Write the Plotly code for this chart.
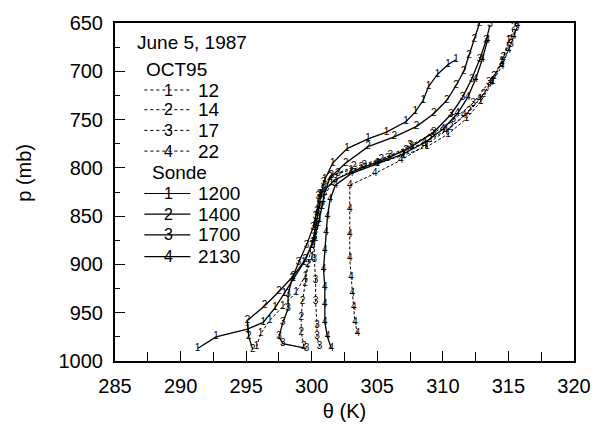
import plotly.graph_objects as go

# ---------------- data ----------------
# OCT95 model profiles (dotted)
oct1_theta = [295.8, 296.1, 296.8, 297.8, 298.8, 299.5, 300.0, 300.3, 300.6, 300.9, 301.5, 303.0, 305.0, 307.0, 308.8, 310.4, 311.8, 312.9, 313.8, 314.5, 315.0]
oct1_p     = [985, 972, 958, 944, 929, 912, 893, 873, 853, 833, 815, 803, 795, 787, 778, 765, 749, 731, 711, 690, 668]

oct2_theta = [299.4, 299.2, 299.2, 299.3, 299.5, 299.7, 300.0, 300.3, 300.6, 300.9, 301.5, 303.2, 305.3, 307.2, 309.0, 310.6, 312.0, 313.1, 313.9, 314.6, 315.1, 315.4]
oct2_p     = [985, 970, 955, 938, 920, 900, 880, 860, 840, 822, 808, 799, 791, 782, 771, 758, 742, 724, 705, 686, 668, 655]

oct3_theta = [300.6, 300.4, 300.4, 300.3, 300.3, 300.2, 300.2, 300.3, 300.5, 300.9, 302.0, 304.0, 306.0, 307.5, 309.2, 310.8, 312.3, 313.5, 314.5, 315.2, 315.6]
oct3_p     = [985, 975, 963, 938, 917, 895, 872, 850, 830, 815, 806, 798, 787, 777, 765, 750, 733, 712, 692, 672, 656]

oct4_theta = [303.5, 303.3, 303.2, 303.1, 303.0, 302.9, 302.9, 302.9, 302.9, 304.8, 306.8, 308.6, 310.2, 311.6, 312.8, 313.7, 314.5, 315.0, 315.4, 315.7]
oct4_p     = [972, 960, 945, 930, 914, 894, 869, 843, 818, 806, 792, 777, 762, 746, 729, 712, 695, 678, 664, 653]

# Sonde profiles (solid)
snd1_theta = [291.3, 292.7, 295.1, 296.3, 297.2, 297.9, 298.6, 299.4, 300.0, 300.3, 300.5, 300.7, 301.0, 301.6, 302.7, 304.3, 305.7, 307.2, 307.9, 308.5, 308.9, 309.6, 310.4, 311.0]
snd1_p     = [987, 975, 967, 960, 945, 930, 915, 898, 880, 862, 845, 828, 812, 795, 780, 770, 763, 752, 742, 730, 716, 703, 693, 688]

snd2_theta = [295.5, 295.2, 295.1, 296.4, 297.5, 298.6, 299.5, 300.1, 300.5, 300.8, 301.0, 301.4, 302.6, 304.3, 306.3, 308.0, 309.3, 310.3, 311.0, 311.6, 312.0, 312.4, 312.8]
snd2_p     = [988, 975, 958, 943, 928, 912, 895, 877, 858, 840, 825, 810, 795, 778, 768, 757, 744, 730, 715, 700, 684, 667, 650]

snd3_theta = [299.6, 297.8, 297.5, 297.8, 298.2, 298.2, 298.5, 299.0, 299.6, 300.1, 300.4, 300.6, 301.8, 303.8, 305.8, 307.6, 309.3, 310.6, 311.5, 312.2, 312.8, 313.3, 313.6]
snd3_p     = [987, 982, 975, 960, 946, 931, 915, 898, 880, 862, 845, 828, 812, 800, 790, 778, 763, 745, 727, 708, 688, 668, 652]

snd4_theta = [301.5, 301.2, 301.0, 301.0, 301.0, 300.9, 301.0, 301.1, 301.2, 301.4, 301.8, 303.0, 305.0, 306.9, 308.6, 310.0, 311.1, 311.9, 312.5, 313.0, 313.4]
snd4_p     = [987, 975, 960, 942, 924, 905, 886, 867, 850, 833, 818, 806, 796, 786, 774, 760, 744, 727, 708, 688, 668]

oct_labels = ["12", "14", "17", "22"]
sonde_labels = ["1200", "1400", "1700", "2130"]
x_ticks = [285, 290, 295, 300, 305, 310, 315, 320]
y_ticks = [650, 700, 750, 800, 850, 900, 950, 1000]

FONT = "Liberation Sans, Arial, sans-serif"
DOT = "3px,2px"

fig = go.Figure()

oct_series = [(oct1_theta, oct1_p), (oct2_theta, oct2_p), (oct3_theta, oct3_p), (oct4_theta, oct4_p)]
snd_series = [(snd1_theta, snd1_p), (snd2_theta, snd2_p), (snd3_theta, snd3_p), (snd4_theta, snd4_p)]

for i, (th, p) in enumerate(oct_series):
    fig.add_trace(go.Scatter(
        x=th, y=p, mode="lines+text", text=[str(i + 1)] * len(th),
        textposition="middle center",
        textfont=dict(size=10, color="#000000", family=FONT),
        line=dict(color="#000000", width=1, dash=DOT),
        name="OCT95 " + oct_labels[i], showlegend=False, hoverinfo="skip"))

for i, (th, p) in enumerate(snd_series):
    fig.add_trace(go.Scatter(
        x=th, y=p, mode="lines+text", text=[str(i + 1)] * len(th),
        textposition="middle center",
        textfont=dict(size=10, color="#000000", family=FONT),
        line=dict(color="#000000", width=1.3),
        name="Sonde " + sonde_labels[i], showlegend=False, hoverinfo="skip"))

# ---------------- manual legend (paper coordinates) ----------------
L, R, T, B = 115, 584, 18, 361
def px(x):
    return (x - L) / (R - L)
def py(y):
    return (B - y) / (B - T)

shapes = []
annotations = []

def txt(s, x, y, size=19, anchor="left"):
    annotations.append(dict(text=s, x=px(x), y=py(y), xref="paper", yref="paper",
                            xanchor=anchor, yanchor="middle", showarrow=False,
                            font=dict(size=size, color="black", family=FONT)))

txt("June 5, 1987", 135, 38)
txt("OCT95", 145, 65)
txt("Sonde", 151, 170)

oct_rows = [86, 106, 127, 148]
snd_rows = [191, 212, 233, 255]
for i, y in enumerate(oct_rows):
    shapes.append(dict(type="line", xref="paper", yref="paper", x0=px(145), x1=px(192),
                       y0=py(y), y1=py(y), line=dict(color="black", width=1, dash="dot")))
    txt(str(i + 1), 170, y, size=16, anchor="center")
    txt(oct_labels[i], 198, y)
for i, y in enumerate(snd_rows):
    shapes.append(dict(type="line", xref="paper", yref="paper", x0=px(145), x1=px(192),
                       y0=py(y), y1=py(y), line=dict(color="black", width=1.2)))
    txt(str(i + 1), 170, y, size=16, anchor="center")
    txt(sonde_labels[i], 198, y)

# y-axis title as annotation
annotations.append(dict(text="p (mb)", x=px(22), y=py(170), xref="paper", yref="paper",
                        xanchor="center", yanchor="middle", textangle=-90, showarrow=False,
                        font=dict(size=20, color="black", family=FONT)))

fig.update_layout(
    width=603, height=432,
    margin=dict(l=L, r=603 - R, t=T, b=432 - B),
    paper_bgcolor="white", plot_bgcolor="white",
    font=dict(family=FONT, color="black", size=20),
    shapes=shapes, annotations=annotations,
    xaxis=dict(range=[285, 320], tickvals=x_ticks, ticks="inside", ticklen=10, tickwidth=1,
               tickcolor="black", showline=True, linecolor="black", linewidth=2, mirror=True,
               showgrid=False, zeroline=False, tickfont=dict(size=20, family=FONT),
               ticklabelstandoff=6,
               minor=dict(dtick=2.5, tick0=285, ticks="inside", ticklen=9, tickcolor="black", showgrid=False),
               title=dict(text="θ (K)", font=dict(size=20, family=FONT), standoff=8)),
    yaxis=dict(range=[1000, 650], tickvals=y_ticks, ticks="inside", ticklen=10, tickwidth=1,
               tickcolor="black", showline=True, linecolor="black", linewidth=2, mirror=True,
               showgrid=False, zeroline=False, tickfont=dict(size=20, family=FONT),
               ticklabelstandoff=6,
               minor=dict(dtick=25, tick0=650, ticks="inside", ticklen=5, tickcolor="black", showgrid=False)),
)

fig.write_html("out.html")
